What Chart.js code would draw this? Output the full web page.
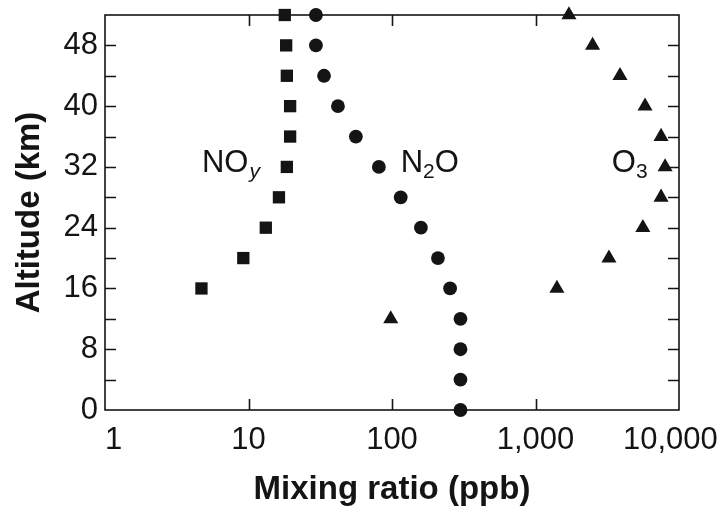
<!DOCTYPE html>
<html lang="en">
<head>
<meta charset="UTF-8">
<title>Mixing ratio vs altitude</title>
<script src="https://cdn.jsdelivr.net/npm/chart.js"></script>
<style>
  html, body { margin: 0; padding: 0; background: #fff; }
  #wrap { width: 724px; height: 512px; }
</style>
</head>
<body>
<div id="wrap"><canvas id="profileChart" width="724" height="512"></canvas></div>
<script>
// altitude (km) and mixing ratio (ppb) for each species
const altNOy = [52, 48, 44, 40, 36, 32, 28, 24, 20, 16];
const noy = [17.9, 18.3, 18.5, 19.5, 19.5, 18.5, 16.3, 13.2, 9.2, 4.7];

const altN2O = [52, 48, 44, 40, 36, 32, 28, 24, 20, 16, 12, 8, 4, 0];
const n2o = [29.5, 29.5, 33.6, 42, 56, 81, 115, 159, 209, 254, 300, 300, 300, 300];

const altO3 = [52, 48, 44, 40, 36, 32, 28, 24, 20, 16, 12];
const o3 = [1710, 2500, 3880, 5800, 7500, 8000, 7500, 5600, 3250, 1410, 98];

const xTicks = [1, 10, 100, 1000, 10000];
const yTicks = [0, 8, 16, 24, 32, 40, 48];

const FONT = '"Liberation Sans", Arial, Helvetica, sans-serif';
const INK = '#141414';

function toPoints(xs, ys) {
    return xs.map((v, i) => ({ x: v, y: ys[i] }));
}

// x labels: nudge the end ones inward with a figure space, like the printed axis
function xLabel(v) {
    const s = Number(v).toLocaleString('en-US');
    if (v === xTicks[0]) return '\u2007' + s;
    if (v === xTicks[xTicks.length - 1]) return s + '\u2007';
    return s;
}

// frame + inward tick marks, drawn with the chart's own scales
const framePlugin = {
    id: 'frame',
    beforeDatasetsDraw(chart) {
        const { ctx, chartArea: a, scales } = chart;
        const len = 11;
        ctx.save();
        ctx.strokeStyle = INK;
        ctx.lineWidth = 1.6;
        ctx.strokeRect(a.left, a.top, a.right - a.left, a.bottom - a.top);
        ctx.beginPath();
        scales.y.ticks.forEach(t => {
            if (t.value <= scales.y.min || t.value >= scales.y.max) return;
            const py = Math.round(scales.y.getPixelForValue(t.value)) + 0.5;
            ctx.moveTo(a.left, py); ctx.lineTo(a.left + len, py);
            ctx.moveTo(a.right, py); ctx.lineTo(a.right - len, py);
        });
        scales.x.ticks.forEach(t => {
            if (t.value <= scales.x.min || t.value >= scales.x.max) return;
            const px = Math.round(scales.x.getPixelForValue(t.value)) + 0.5;
            ctx.moveTo(px, a.bottom); ctx.lineTo(px, a.bottom - len);
            ctx.moveTo(px, a.top); ctx.lineTo(px, a.top + len);
        });
        ctx.stroke();
        ctx.restore();
    }
};

// species names with subscripts
const speciesLabels = [
    { x: 4.74, y: 31.3, main: 'NO', sub: 'y', italic: true },
    { x: 115, y: 31.3, main: 'N', sub: '2', after: 'O' },
    { x: 3400, y: 31.3, main: 'O', sub: '3' }
];

const labelPlugin = {
    id: 'speciesLabels',
    afterDatasetsDraw(chart) {
        const { ctx, scales } = chart;
        ctx.save();
        ctx.fillStyle = INK;
        ctx.textBaseline = 'alphabetic';
        ctx.textAlign = 'left';
        speciesLabels.forEach(l => {
            let px = scales.x.getPixelForValue(l.x);
            const py = scales.y.getPixelForValue(l.y);
            ctx.font = '31px ' + FONT;
            ctx.fillText(l.main, px, py);
            px += ctx.measureText(l.main).width;
            ctx.font = (l.italic ? 'italic ' : '') + '21px ' + FONT;
            ctx.fillText(l.sub, px + (l.italic ? 1 : 0), py + 6);
            px += ctx.measureText(l.sub).width + (l.italic ? 1 : 0);
            if (l.after) {
                ctx.font = '31px ' + FONT;
                ctx.fillText(l.after, px, py);
            }
        });
        ctx.restore();
    }
};

const marker = { backgroundColor: INK, borderColor: INK, borderWidth: 0, showLine: false, clip: false };

new Chart(document.getElementById('profileChart').getContext('2d'), {
    type: 'scatter',
    data: {
        datasets: [
            Object.assign({ label: 'NOy', data: toPoints(noy, altNOy), pointStyle: 'rect', pointRadius: 8.7 }, marker),
            Object.assign({ label: 'N2O', data: toPoints(n2o, altN2O), pointStyle: 'circle', pointRadius: 6.9 }, marker),
            Object.assign({ label: 'O3', data: toPoints(o3, altO3), pointStyle: 'triangle', pointRadius: 8.7 }, marker)
        ]
    },
    options: {
        responsive: false,
        animation: false,
        events: [],
        layout: { padding: { top: 15, right: 45, left: 4, bottom: 0 } },
        plugins: { legend: { display: false }, tooltip: { enabled: false } },
        scales: {
            x: {
                type: 'logarithmic',
                min: 1,
                max: 10000,
                afterBuildTicks: s => { s.ticks = xTicks.map(v => ({ value: v })); },
                afterFit: s => { s.height = 102; s.paddingLeft = 0; s.paddingRight = 0; },
                grid: { display: false, drawTicks: false },
                border: { display: false },
                ticks: {
                    color: INK,
                    font: { family: FONT, size: 31 },
                    padding: 12,
                    maxRotation: 0,
                    autoSkip: false,
                    callback: v => xLabel(v)
                },
                title: {
                    display: true,
                    text: 'Mixing ratio (ppb)',
                    color: INK,
                    font: { family: FONT, size: 33, weight: 'bold' },
                    padding: { top: 0, bottom: 2 }
                }
            },
            y: {
                min: 0,
                max: 52,
                afterFit: s => { s.width = 101; s.paddingTop = 0; s.paddingBottom = 0; },
                grid: { display: false, drawTicks: false },
                border: { display: false },
                ticks: {
                    stepSize: 4,
                    color: INK,
                    font: { family: FONT, size: 31 },
                    padding: 7,
                    autoSkip: false,
                    callback: v => yTicks.includes(v) ? String(v) : ''
                },
                title: {
                    display: true,
                    text: 'Altitude (km)',
                    color: INK,
                    font: { family: FONT, size: 33, weight: 'bold' },
                    padding: { top: 6, bottom: 0 }
                }
            }
        }
    },
    plugins: [framePlugin, labelPlugin]
});
</script>
</body>
</html>
